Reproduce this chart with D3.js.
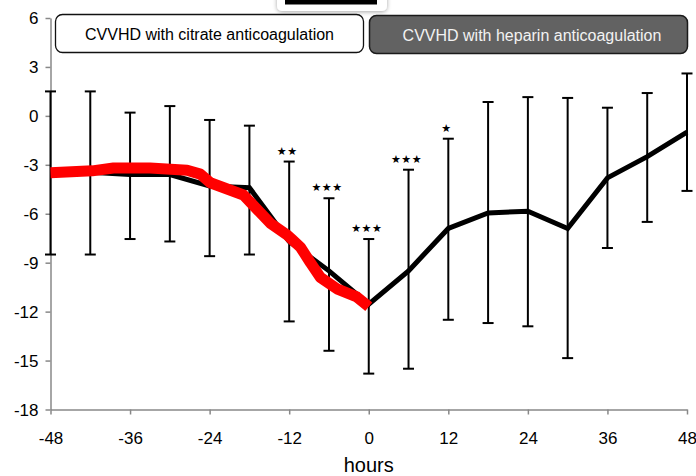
<!DOCTYPE html>
<html><head><meta charset="utf-8">
<script src="https://cdn.jsdelivr.net/npm/d3@7"></script>
<style>
html,body{margin:0;padding:0;background:#fff;}
svg{display:block;font-family:"Liberation Sans",Arial,sans-serif;}
</style></head>
<body><svg id="c" width="696" height="476"></svg>
<script>
const hours = [-48,-42,-36,-30,-24,-18,-12,-6,0,6,12,18,24,30,36,42,48];
const meanVals = [-3.45,-3.45,-3.6,-3.6,-4.3,-4.4,-7.7,-9.5,-11.55,-9.5,-6.9,-5.95,-5.85,-6.9,-3.8,-2.5,-1.0];
const upperVals = [1.5,1.5,0.2,0.6,-0.25,-0.6,-2.8,-5.05,-7.55,-3.3,-1.4,0.85,1.15,1.1,0.5,1.4,2.6];
const lowerVals = [-8.5,-8.5,-7.55,-7.7,-8.6,-8.5,-12.6,-14.4,-15.8,-15.5,-12.5,-12.7,-12.9,-14.85,-8.1,-6.5,-4.6];
const signif = ["","","","","","","**","***","***","***","*","","","","","",""];
const redHours = [-48,-41.7,-38.5,-33,-27.4,-25.4,-23.9,-18.9,-14.8,-12.3,-11.5,-10.3,-8.8,-7.3,-4.8,-1.8,-0.3,0];
const redVals = [-3.48,-3.37,-3.2,-3.2,-3.33,-3.57,-4.1,-4.85,-6.6,-7.3,-7.6,-8.05,-9.0,-9.9,-10.6,-11.1,-11.6,-11.7];
const xTicks = [-48,-36,-24,-12,0,12,24,36,48];
const yTicks = [-18,-15,-12,-9,-6,-3,0,3,6];
const periodLabels = ["CVVHD with citrate anticoagulation","CVVHD with heparin anticoagulation"];
const xTitle = "hours";

const svg = d3.select("#c");
const x = d3.scaleLinear().domain([-48,48]).range([50.5,687]);
const y = d3.scaleLinear().domain([-18,6]).range([409.5,18]);
const fmt = d => String(d);

const defs = svg.append("defs");
const f = defs.append("filter").attr("id","sh").attr("x","-20%").attr("y","-50%").attr("width","140%").attr("height","250%");
f.append("feDropShadow").attr("dx",0).attr("dy",1).attr("stdDeviation",2).attr("flood-color","#000").attr("flood-opacity",0.35);

// partial top box
svg.append("rect").attr("x",277).attr("y",-10).attr("width",110).attr("height",21).attr("rx",5)
  .attr("fill","#fff").attr("filter","url(#sh)");
svg.append("rect").attr("x",285).attr("y",-5).attr("width",92).attr("height",9.5).attr("fill","#000");

// axes
const gx = svg.append("g").attr("transform","translate(0,409.5)")
  .call(d3.axisBottom(x).tickValues(xTicks).tickSize(5).tickSizeOuter(0).tickFormat(fmt));
const gy = svg.append("g").attr("transform","translate(50.5,0)")
  .call(d3.axisLeft(y).tickValues(yTicks).tickSize(5).tickSizeOuter(0).tickFormat(fmt));
[gx,gy].forEach(g=>{
  g.select(".domain").attr("stroke","#888").attr("stroke-width",1.5);
  g.selectAll(".tick line").attr("stroke","#888").attr("stroke-width",1.5);
  g.selectAll("text").attr("fill","#000").attr("font-size",17).attr("font-family","Liberation Sans, Arial, sans-serif");
});
gx.selectAll("text").attr("dy",null).attr("y",34);
gy.selectAll("text").attr("x",-12).attr("dy","0.35em");

svg.append("text").attr("x",x(0)).attr("y",472).attr("text-anchor","middle")
  .attr("font-size",20).attr("fill","#000").text(xTitle);

// period boxes
svg.append("rect").attr("x",55.5).attr("y",14.5).attr("width",308).attr("height",38).attr("rx",7)
  .attr("fill","#fff").attr("stroke","#111").attr("stroke-width",1.3);
svg.append("text").attr("x",209.5).attr("y",39.5).attr("text-anchor","middle").attr("font-size",16).attr("fill","#000").text(periodLabels[0]);
svg.append("rect").attr("x",369.5).attr("y",15.5).attr("width",318).attr("height",38).attr("rx",7)
  .attr("fill","#626262").attr("stroke","#1a1a1a").attr("stroke-width",1.5);
svg.append("text").attr("x",532).attr("y",40.5).attr("text-anchor","middle").attr("font-size",16).attr("fill","#f2f2f2").text(periodLabels[1]);

// error bars
const data = hours.map((h,i)=>({h,m:meanVals[i],u:upperVals[i],l:lowerVals[i],s:signif[i]}));
const eb = svg.append("g").attr("stroke","#000").attr("stroke-width",2);
eb.selectAll("line.v").data(data).join("line").attr("class","v")
  .attr("x1",d=>x(d.h)).attr("x2",d=>x(d.h)).attr("y1",d=>y(d.u)).attr("y2",d=>y(d.l));
eb.selectAll("line.t").data(data).join("line").attr("class","t")
  .attr("x1",d=>x(d.h)-5.5).attr("x2",d=>x(d.h)+5.5).attr("y1",d=>y(d.u)).attr("y2",d=>y(d.u));
eb.selectAll("line.b").data(data).join("line").attr("class","b")
  .attr("x1",d=>x(d.h)-5.5).attr("x2",d=>x(d.h)+5.5).attr("y1",d=>y(d.l)).attr("y2",d=>y(d.l));

// mean line
const line = d3.line().x(d=>x(d.h)).y(d=>y(d.m));
svg.append("path").datum(data).attr("d",line).attr("fill","none").attr("stroke","#000")
  .attr("stroke-width",5).attr("stroke-linejoin","miter");

// red line
const red = redHours.map((h,i)=>({h,m:redVals[i]}));
svg.append("path").datum(red).attr("d",line).attr("fill","none").attr("stroke","#ff0000")
  .attr("stroke-width",11).attr("stroke-linejoin","round").attr("stroke-linecap","butt");

// significance stars
svg.append("g").selectAll("text").data(data.filter(d=>d.s)).join("text")
  .attr("x",d=>x(d.h)-2).attr("y",d=>y(d.u)-7).attr("text-anchor","middle")
  .attr("font-family","DejaVu Sans").attr("font-size",11).attr("letter-spacing",0.5).attr("fill","#000")
  .text(d=>d.s.replace(/\*/g,"\u2605"));
</script></body></html>
